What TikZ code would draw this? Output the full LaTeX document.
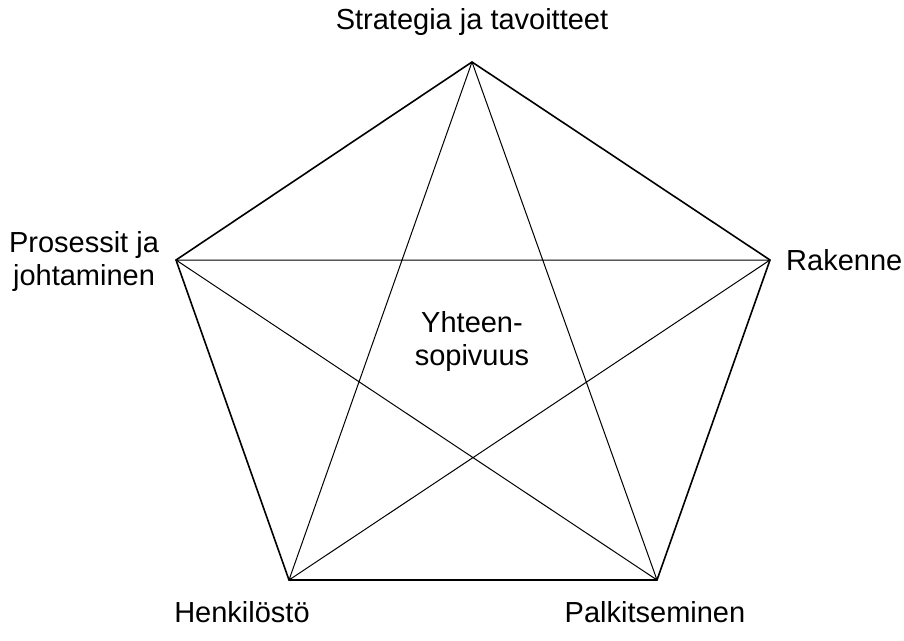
\documentclass[tikz,border=0pt]{standalone}
\usepackage{fontspec}
\setmainfont{Liberation Sans}
\begin{document}
\begin{tikzpicture}[x=1pt,y=-1pt,
  lbl/.style={font=\fontsize{29}{33}\selectfont, inner sep=0pt, align=center},
  edge/.style={line width=1.6pt},
  diag/.style={line width=1pt}]
\useasboundingbox (0,0) rectangle (904,640);
\coordinate (T) at (472,62);
\coordinate (R) at (770,260);
\coordinate (BR) at (657,580);
\coordinate (BL) at (289,580);
\coordinate (L) at (176,260);
\draw[diag] (T) -- (BR) (T) -- (BL) (L) -- (R) (L) -- (BR) (R) -- (BL);
\draw[edge, line join=miter] (T) -- (R) -- (BR) -- (BL) -- (L) -- cycle;
\node[lbl] (t) at (472,22) {Strategia ja tavoitteet};
\node[lbl, anchor=west] (r) at (786,260) {Rakenne};
\node[lbl] (l) at (84,261) {Prosessit ja\\johtaminen};
\node[lbl] (bl) at (242,612) {Henkilöstö};
\node[lbl] (br) at (655,612) {Palkitseminen};
\node[lbl] (c) at (472,341) {Yhteen-\\sopivuus};
\end{tikzpicture}
\end{document}
